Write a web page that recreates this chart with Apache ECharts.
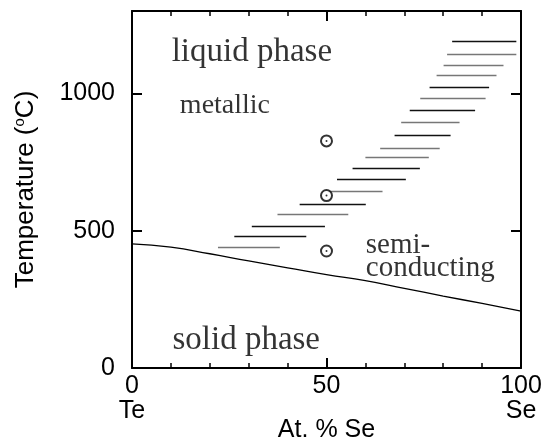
<!DOCTYPE html>
<html>
<head>
<meta charset="utf-8">
<script src="https://cdn.jsdelivr.net/npm/echarts@6/dist/echarts.min.js"></script>
<style>
  html, body { margin: 0; padding: 0; background: #fff; }
  #chart { width: 551px; height: 443px; }
</style>
</head>
<body>
<div id="chart"></div>
<script>
// solidus line (At.% Se, temperature)
const solidusX = [0, 10, 20, 30, 40, 50, 60, 70, 80, 90, 100]
const solidusT = [452, 440, 416, 390, 365, 340, 318, 290, 262, 235, 207]

// hatched bands: temperature, start and end composition, shade
const segT = [1191, 1142, 1102, 1066, 1023, 981, 939, 894, 848, 802, 766, 727, 688, 643, 598, 561, 517, 481, 438]
const segFrom = [82.3, 81.0, 80.1, 78.3, 76.5, 74.1, 71.4, 69.2, 67.5, 63.8, 60.0, 56.7, 52.7, 50.4, 43.1, 37.4, 30.8, 26.3, 22.1]
const segTo = [98.8, 98.8, 95.5, 93.7, 91.8, 90.9, 88.2, 84.2, 81.9, 79.1, 76.3, 74.0, 70.4, 64.4, 60.1, 55.6, 49.6, 44.8, 38.0]
const segGray = [0, 1, 1, 1, 0, 1, 0, 1, 0, 1, 1, 0, 0, 1, 0, 1, 0, 0, 1]

// measured points at 50 %
const pointX = [50, 50, 50]
const pointT = [827, 628, 426]

// tick labels
const xTicks = [0, 50, 100]
const xTickNames = ['Te', '', 'Se']
const yTicks = [0, 500, 1000]

// region labels [x, temperature, text, size]
const notes = [
  [10.2, 1151, 'liquid phase', 33],
  [12.3, 957, 'metallic', 28],
  [60.1, 447, 'semi-', 29],
  [60.1, 362, 'conducting', 29],
  [10.4, 101, 'solid phase', 33]
]

const chart = echarts.init(document.getElementById('chart'))

const sans = 'Liberation Sans'
const serif = 'Liberation Serif'

const axisBase = {
  axisLine: {onZero: false, lineStyle: {color: '#000', width: 2}},
  axisTick: {inside: true, length: 10, lineStyle: {color: '#000', width: 2}},
  splitLine: {show: false}
}

chart.setOption({
  animation: false,
  grid: {left: 132, right: 30, top: 11, bottom: 75, containLabel: false, outerBoundsMode: 'none'},
  xAxis: [
    Object.assign({}, axisBase, {
      type: 'value', min: 0, max: 100, interval: 50,
      minorTick: {show: true, splitNumber: 5, length: 5, lineStyle: {color: '#000', width: 1.5}},
      axisLabel: {
        color: '#000', fontFamily: sans, fontSize: 25, lineHeight: 25, margin: 6,
        formatter: v => {
          const i = xTicks.indexOf(v)
          return i < 0 ? '' : (xTickNames[i] ? v + '\n' + xTickNames[i] : String(v))
        }
      },
      name: 'At. % Se', nameLocation: 'middle', nameGap: 50, nameMoveOverlap: false,
      nameTextStyle: {color: '#000', fontFamily: sans, fontSize: 25}
    }),
    Object.assign({}, axisBase, {
      type: 'value', position: 'top', min: 0, max: 100, interval: 50,
      minorTick: {show: true, splitNumber: 5, length: 5, lineStyle: {color: '#000', width: 1.5}},
      axisLabel: {show: false}
    })
  ],
  yAxis: [
    Object.assign({}, axisBase, {
      type: 'value', min: 0, max: 1300, interval: 500,
      axisLabel: {
        color: '#000', fontFamily: sans, fontSize: 25, margin: 17,
        formatter: v => yTicks.indexOf(v) < 0 ? '' : String(v)
      },
      name: '{t|Temperature (}{s|o}{t|C)}', nameLocation: 'middle', nameGap: 93, nameMoveOverlap: false,
      nameTextStyle: {
        rich: {
          t: {color: '#000', fontFamily: sans, fontSize: 26},
          s: {color: '#000', fontFamily: sans, fontSize: 15, verticalAlign: 'top', padding: [0, 0, 12, 0]}
        }
      }
    }),
    Object.assign({}, axisBase, {
      type: 'value', position: 'right', min: 0, max: 1300, interval: 500,
      axisLabel: {show: false}
    })
  ],
  series: [
    {
      type: 'line',
      data: solidusX.map((x, i) => [x, solidusT[i]]),
      smooth: true,
      symbol: 'none',
      lineStyle: {color: '#000', width: 1.3}
    },
    {
      type: 'lines',
      coordinateSystem: 'cartesian2d',
      polyline: false,
      data: segT.map((t, i) => ({
        coords: [[segFrom[i], t], [segTo[i], t]],
        lineStyle: {color: segGray[i] ? '#777' : '#111'}
      })),
      lineStyle: {width: 1.4, opacity: 1}
    },
    {
      type: 'scatter',
      data: pointX.map((x, i) => [x, pointT[i]]),
      symbol: 'emptyCircle',
      symbolSize: 11,
      itemStyle: {color: '#000', borderColor: '#000', borderWidth: 1}
    },
    {
      type: 'scatter',
      data: pointX.map((x, i) => [x, pointT[i]]),
      symbol: 'circle',
      symbolSize: 2,
      itemStyle: {color: '#000'}
    },
    {
      type: 'scatter',
      data: notes.map(n => ({value: [n[0], n[1]], name: n[2], size: n[3]})),
      symbolSize: 0,
      label: {
        show: true,
        position: [0, 0],
        align: 'left',
        verticalAlign: 'middle',
        color: '#000',
        fontFamily: serif,
        formatter: p => '{s' + p.data.size + '|' + p.name + '}',
        rich: {
          s33: {fontFamily: serif, fontSize: 33, color: '#000'},
          s29: {fontFamily: serif, fontSize: 29, color: '#000'},
          s28: {fontFamily: serif, fontSize: 28, color: '#000'}
        }
      }
    }
  ]
})
</script>
</body>
</html>
